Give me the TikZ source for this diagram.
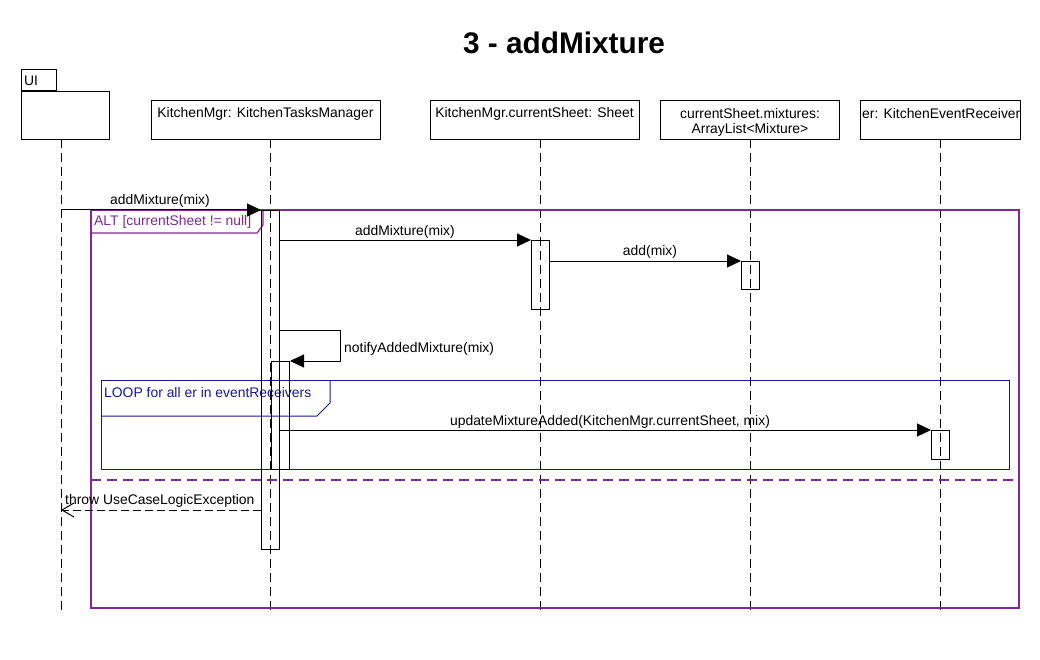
\documentclass[tikz,border=0pt]{standalone}
\usepackage{fontspec}
\setmainfont{Liberation Sans}
\usetikzlibrary{arrows.meta}
\definecolor{altc}{RGB}{128,40,150}
\definecolor{loopc}{RGB}{25,25,150}
\begin{document}
\begin{tikzpicture}[x=1pt,y=-1pt,
  font=\fontsize{13.9}{16}\selectfont,
  box/.style={draw,line width=1pt,inner sep=0pt,minimum height=39pt,anchor=north west},
  txt/.style={inner sep=0pt},
  act/.style={draw,line width=1pt,inner sep=0pt,minimum width=18pt,anchor=north west},
  life/.style={line width=1pt,dash pattern=on 9pt off 5pt},
  msg/.style={line width=1pt,-{Triangle[length=14pt,width=13pt]}},
  ret/.style={line width=1pt,dash pattern=on 8pt off 4pt,-{Straight Barb[length=12pt,width=14pt]}},
  altframe/.style={draw=altc,line width=1.2pt},
  loopframe/.style={draw=loopc,line width=1pt}]
\useasboundingbox (0,0) rectangle (1040,660);

% title
\node[txt,font=\bfseries\fontsize{29.8}{32}\selectfont] (title) at (564,43) {3 - addMixture};

% UI package
\node[box,minimum width=88pt,minimum height=48pt] (ui) at (21,91) {};
\node[draw,line width=1pt,inner sep=0pt,minimum width=35pt,minimum height=21pt,anchor=south west] (uitab) at (ui.north west) {};
\node[txt,anchor=west] (uiT) at (24,81) {UI};

% object boxes
\node[box,minimum width=229pt] (km) at (151,100) {};
\node[txt] (kmT) at (265.5,114) {KitchenMgr: KitchenTasksManager};
\node[box,minimum width=209pt] (sh) at (430,100) {};
\node[txt] (shT) at (534.5,114) {KitchenMgr.currentSheet: Sheet};
\node[box,minimum width=179pt] (mx) at (660,100) {};
\node[txt,align=center] (mxT) at (750,122.5) {currentSheet.mixtures:\\[-1.2pt]ArrayList<Mixture>};
\node[box,minimum width=160pt] (er) at (860,100) {};
\node[txt,anchor=west] (erT) at (862,114) {er: KitchenEventReceiver};

% lifelines
\coordinate (l1t) at (61,139);  \coordinate (l1b) at (61,615);
\coordinate (l2t) at (270,139); \coordinate (l2b) at (270,615);
\coordinate (l3t) at (540,139); \coordinate (l3b) at (540,615);
\coordinate (l4t) at (750,139); \coordinate (l4b) at (750,615);
\coordinate (l5t) at (940,139); \coordinate (l5b) at (940,615);
\foreach \i in {1,...,5} \draw[life] (l\i t) -- (l\i b);

% ALT frame
\draw[altframe] (91,210) rectangle (1019,608);
\draw[altframe] (91,233) -- (257,233) -- (263,225) -- (263,210);
\node[txt,anchor=west,text=altc] (altT) at (94,222) {ALT [currentSheet != null]};
\draw[altframe,dash pattern=on 10pt off 6pt] (91,480) -- (1019,480);

% LOOP frame
\draw[loopframe] (101,380) rectangle (1009,469);
\draw[loopframe] (101,416) -- (317,416) -- (330,403) -- (330,380);
\node[txt,anchor=west,text=loopc] (loopT) at (104,393) {LOOP for all er in eventReceivers};

% activation bars
\node[act,minimum height=339pt] (a1) at (261,210) {};
\node[act,minimum height=108pt] (a2) at (271,361) {};
\node[act,minimum height=69pt] (s1) at (531,240) {};
\node[act,minimum height=28pt] (m1) at (741,261) {};
\node[act,minimum height=29pt] (e1) at (931,430) {};

% messages
\coordinate (m1s) at (61,210);
\draw[msg] (m1s) -- (a1.north west);
\node[txt] (m1T) at (160,201) {addMixture(mix)};

\draw[msg] (a1.east |- s1.north) -- (s1.north west);
\node[txt] (m2T) at (405,232) {addMixture(mix)};

\draw[msg] (s1.east |- m1.north) -- (m1.north west);
\node[txt] (m3T) at (650,252) {add(mix)};

\coordinate (selfA) at (340,330);
\coordinate (selfB) at (340,361);
\draw[msg] (a1.east |- selfA) -- (selfA) -- (selfB) -- (a2.north east);
\node[txt,anchor=west] (m4T) at (344,349) {notifyAddedMixture(mix)};

\draw[msg] (a1.east |- e1.north) -- (e1.north west);
\node[txt] (m5T) at (610,422) {updateMixtureAdded(KitchenMgr.currentSheet, mix)};

\coordinate (retE) at (61,510);
\draw[ret] (a1.west |- retE) -- (retE);
\node[txt,anchor=west] (m6T) at (65,501) {throw UseCaseLogicException};
\end{tikzpicture}
\end{document}
